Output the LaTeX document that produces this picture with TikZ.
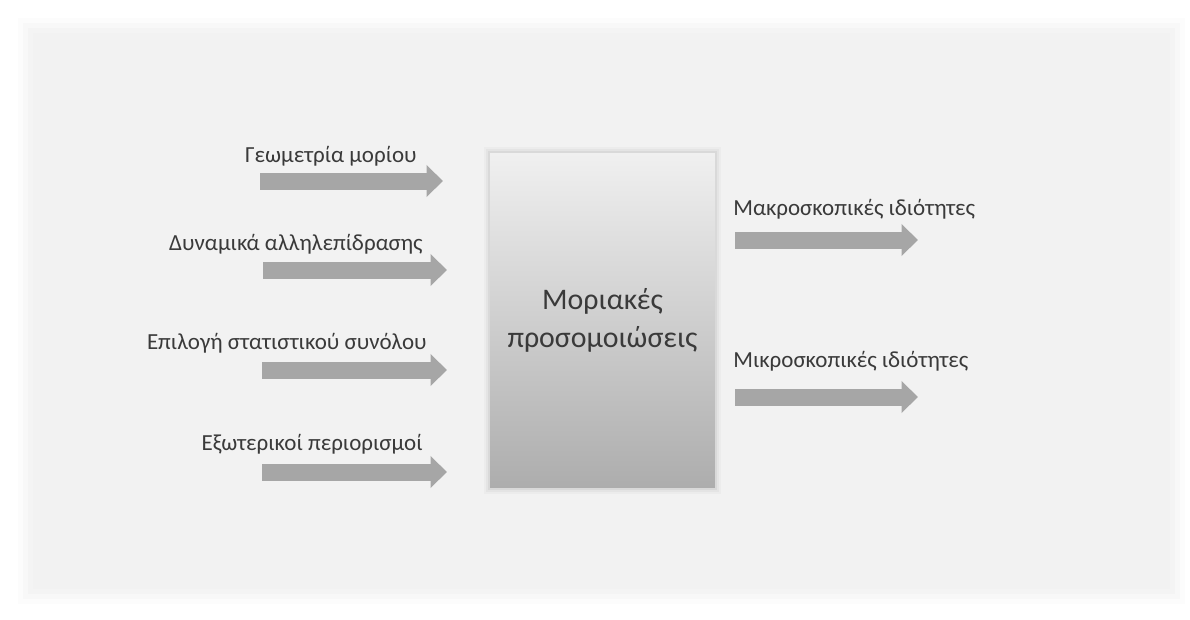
\documentclass[tikz,border=0pt]{standalone}
\usepackage{fontspec}
\setmainfont{Carlito}
\usetikzlibrary{arrows.meta,positioning}
\definecolor{pnl}{HTML}{F2F2F2}
\definecolor{arw}{HTML}{A6A6A6}
\definecolor{txt}{HTML}{3A3A3A}
\definecolor{boxtop}{HTML}{F0F0F0}
\definecolor{boxbot}{HTML}{ADADAD}
\tikzset{
  flow/.style={line width=0.34cm, arw, -{Triangle[length=0.33cm,width=0.62cm]}},
  lbl/.style={txt, font=\fontsize{13.1}{15}\selectfont, inner sep=0pt},
  simbox/.style={minimum width=4.5cm, minimum height=6.7cm, top color=boxtop, bottom color=boxbot,
    txt, font=\fontsize{17}{21.5}\selectfont, align=center, inner sep=0pt},
}

\begin{document}
\begin{tikzpicture}[x=0.02cm, y=-0.02cm]
 \useasboundingbox (0,0) rectangle (1190,619);
 \fill[white] (0,0) rectangle (1190,619);
 % soft panel
 \foreach \d/\o in {0/0.2,5/0.35,10/0.5,15/0.7,20/1}
   \fill[pnl, opacity=\o] (18+\d,18+\d) rectangle (1185-\d,604-\d);
 % centre block
 \foreach \d/\o in {6/0.08,4/0.12,2/0.2}
   \fill[boxbot, opacity=\o] (490-\d,153-\d) rectangle (715+\d,488+\d);
 \node[simbox] (sim) at (602.5,320.5) {Μοριακές\\προσομοιώσεις};
 % inputs
 \coordinate (i1s) at (260,181); \coordinate (i1e) at (443,181);
 \coordinate (i2s) at (263,270); \coordinate (i2e) at (447,270);
 \coordinate (i3s) at (262,370); \coordinate (i3e) at (447,370);
 \coordinate (i4s) at (262,472); \coordinate (i4e) at (447,472);
 \draw[flow] (i1s) -- (i1e);
 \draw[flow] (i2s) -- (i2e);
 \draw[flow] (i3s) -- (i3e);
 \draw[flow] (i4s) -- (i4e);
 \node[lbl, anchor=east] (g) at (417,156) {Γεωμετρία μορίου};
 \node[lbl, anchor=east] (d) at (423,244) {Δυναμικά αλληλεπίδρασης};
 \node[lbl, anchor=east] (e) at (427,343) {Επιλογή στατιστικού συνόλου};
 \node[lbl, anchor=east] (x) at (423,444) {Εξωτερικοί περιορισμοί};
 % outputs
 \coordinate (o1s) at (735,240); \coordinate (o1e) at (918,240);
 \coordinate (o2s) at (735,397); \coordinate (o2e) at (918,397);
 \draw[flow] (o1s) -- (o1e);
 \draw[flow] (o2s) -- (o2e);
 \node[lbl, anchor=west] (mac) at (733,209) {Μακροσκοπικές ιδιότητες};
 \node[lbl, anchor=west] (mic) at (733,361) {Μικροσκοπικές ιδιότητες};
\end{tikzpicture}
\end{document}
